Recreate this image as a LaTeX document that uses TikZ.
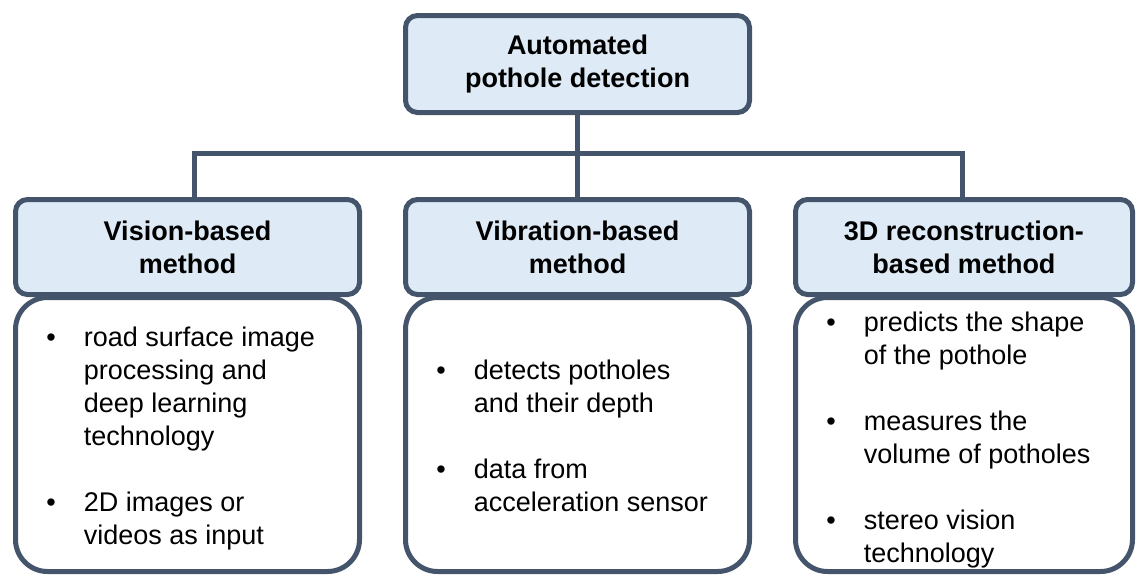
\documentclass[tikz,border=0pt]{standalone}
\usepackage{fontspec}
\setmainfont{Liberation Sans}
\usepackage{tikz}
\usetikzlibrary{positioning, backgrounds, calc}
\usepackage{xcolor}
\definecolor{SlateLine}{HTML}{44546A}
\definecolor{PaleBlue}{HTML}{DEEAF6}
\newcommand{\HeadFont}{\bfseries\fontsize{13.5pt}{16.5pt}\selectfont}
\newcommand{\ItemFont}{\fontsize{13.5pt}{16.5pt}\selectfont}

\begin{document}
\begin{tikzpicture}[x=0.5pt, y=-0.5pt,
    headbox/.style={draw=SlateLine, line width=2.5pt, fill=PaleBlue, rounded corners=6pt,
      minimum width=172pt, minimum height=47.5pt, align=center, font=\HeadFont, inner sep=0pt},
    bodybox/.style={draw=SlateLine, line width=2.5pt, fill=white, rounded corners=16pt,
      minimum width=172pt, minimum height=137pt, inner sep=0pt},
    itemtext/.style={anchor=base west, inner sep=0pt, font=\ItemFont},
    link/.style={draw=SlateLine, line width=2.5pt}]
  \useasboundingbox (0,0) rectangle (1137,574);
  % body boxes
  \node[bodybox] (visbody) at (187.5,434.5) {};
  \node[bodybox] (vibbody) at (577.5,434.5) {};
  \node[bodybox, minimum width=168.5pt] (recbody) at (964,434.5) {};
  % header boxes
  \node[headbox, minimum height=48.5pt] (root) at (577.5,64) {Automated\\pothole detection};
  \node[headbox] (vishead) at (187.5,247) {Vision-based\\method};
  \node[headbox] (vibhead) at (577.5,247) {Vibration-based\\method};
  \node[headbox, minimum width=168.5pt] (rechead) at (964,247) {3D reconstruction-\\based method};
  % tree lines
  \coordinate (bar) at (577.5,153);
  \draw[link] (root) -- (vibhead);
  \draw[link] ([xshift=3.5pt]vishead.north) |- (bar) -| ([xshift=-1pt]rechead.north);
  % bullet texts
  \node[itemtext] (vistext) at (46,346)
    {\begin{tabular}[t]{@{}l@{\hspace{14pt}}l@{}}
      \textbullet & road surface image\\ & processing and\\ & deep learning\\ & technology\\ & \\
      \textbullet & 2D images or\\ & videos as input
    \end{tabular}};
  \node[itemtext] (vibtext) at (436,379)
    {\begin{tabular}[t]{@{}l@{\hspace{14pt}}l@{}}
      \textbullet & detects potholes\\ & and their depth\\ & \\
      \textbullet & data from\\ & acceleration sensor
    \end{tabular}};
  \node[itemtext] (rectext) at (826,331)
    {\begin{tabular}[t]{@{}l@{\hspace{14pt}}l@{}}
      \textbullet & predicts the shape\\ & of the pothole\\ & \\
      \textbullet & measures the\\ & volume of potholes\\ & \\
      \textbullet & stereo vision\\ & technology
    \end{tabular}};
\end{tikzpicture}
\end{document}
